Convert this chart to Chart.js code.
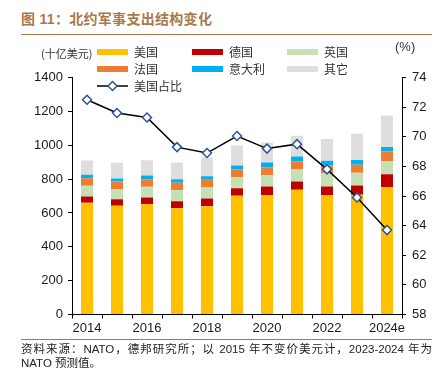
<!DOCTYPE html>
<html lang="zh">
<head>
<meta charset="UTF-8">
<title>北约军事支出结构变化</title>
<script src="https://cdn.jsdelivr.net/npm/chart.js"></script>
<style>
  body { margin: 0; width: 446px; height: 376px; background: #fff; position: relative; overflow: hidden;
         font-family: "Liberation Sans", "Noto Sans CJK SC", sans-serif; }
  #title { position: absolute; left: 21px; top: 9px; font-size: 14px; line-height: 20px; font-weight: bold;
           color: #A8794C; letter-spacing: 0.3px; white-space: nowrap; }
  #topRule { position: absolute; left: 21px; top: 34px; width: 411px; border-top: 1.5px solid #A8794C; }
  #bottomRule { position: absolute; left: 21px; top: 339px; width: 411px; border-top: 1.5px solid #A8794C; }
  .note { position: absolute; left: 21px; width: 411px; font-size: 11.5px; line-height: 14px; color: #222; white-space: nowrap; }
  #n1 { top: 342px; text-align: justify; text-align-last: justify; }
  #n2 { top: 356px; }
  #chartBox { position: absolute; left: 0; top: 0; width: 446px; height: 376px; }
</style>
</head>
<body>
<div id="title">图 11：北约军事支出结构变化</div>
<div id="topRule"></div>
<div id="chartBox"><canvas id="natoChart"></canvas></div>
<div id="bottomRule"></div>
<div class="note" id="n1">资料来源：NATO，德邦研究所；以 2015 年不变价美元计，2023-2024 年为</div>
<div class="note" id="n2">NATO 预测值。</div>
<script>
const years = ['2014', '2015', '2016', '2017', '2018', '2019', '2020', '2021', '2022', '2023', '2024e'];

// 十亿美元 (2015 constant prices)
const usSpend      = [660, 642, 652, 628, 640, 701, 705, 737, 705, 707, 752];
const germanySpend = [37, 39, 39, 41, 45, 45, 51, 49, 51, 55, 77];
const ukSpend      = [63, 59, 63, 65, 65, 65, 67, 71, 77, 75, 77];
const franceSpend  = [45, 46, 45, 44, 46, 47, 47, 49, 47, 47, 57];
const italySpend   = [20, 17, 22, 21, 21, 22, 28, 27, 28, 28, 27];
const otherSpend   = [85, 93, 90, 99, 110, 118, 118, 123, 128, 155, 185];

// 美国占比 (%)
const usShare = [72.5, 71.6, 71.3, 69.3, 68.9, 70.05, 69.2, 69.5, 67.8, 65.9, 63.7];

const leftTicks = [0, 200, 400, 600, 800, 1000, 1200, 1400];
const rightTicks = [58, 60, 62, 64, 66, 68, 70, 72, 74];

const cjk = '"Noto Sans CJK SC", sans-serif';
const tickFont = { family: '"Liberation Sans", Arial, sans-serif', size: 13 };

function bar(label, data, color) {
    return { type: 'bar', label: label, data: data, backgroundColor: color, borderWidth: 0,
             stack: 's', yAxisID: 'y', order: 1, barPercentage: 0.4, categoryPercentage: 1 };
}

// legend in a 3-column grid, plus unit labels above the axes
const gridLegend = {
    id: 'gridLegend',
    afterDraw(chart) {
        const ctx = chart.ctx;
        const colX = [97, 192, 287];
        const rowY = [52, 69, 86];
        ctx.save();
        ctx.textBaseline = 'middle';
        ctx.font = '12px ' + cjk;
        chart.data.datasets.forEach((ds, i) => {
            const x = colX[i % 3];
            const y = rowY[Math.floor(i / 3)];
            if (ds.type === 'line') {
                ctx.strokeStyle = ds.borderColor;
                ctx.lineWidth = 1.5;
                ctx.beginPath();
                ctx.moveTo(x, y);
                ctx.lineTo(x + 31, y);
                ctx.stroke();
                const cx = x + 15.5, r = 4.5;
                ctx.beginPath();
                ctx.moveTo(cx, y - r);
                ctx.lineTo(cx + r, y);
                ctx.lineTo(cx, y + r);
                ctx.lineTo(cx - r, y);
                ctx.closePath();
                ctx.fillStyle = ds.pointBackgroundColor;
                ctx.fill();
                ctx.strokeStyle = ds.pointBorderColor;
                ctx.stroke();
            } else {
                ctx.fillStyle = ds.backgroundColor;
                ctx.fillRect(x, y - 3, 31, 6);
            }
            ctx.fillStyle = '#333';
            ctx.fillText(ds.label, x + 37, y);
        });
        ctx.font = '11px ' + cjk;
        ctx.fillText('(十亿美元)', 41, 54);
        ctx.font = '13px "Liberation Sans", Arial, sans-serif';
        ctx.fillText('(%)', 395, 47);
        ctx.restore();
    }
};

const ctx = document.getElementById('natoChart').getContext('2d');
new Chart(ctx, {
    data: {
        labels: years,
        datasets: [
            bar('美国', usSpend, '#FFC000'),
            bar('德国', germanySpend, '#C00000'),
            bar('英国', ukSpend, '#C5E0B4'),
            bar('法国', franceSpend, '#ED7D31'),
            bar('意大利', italySpend, '#00B0F0'),
            bar('其它', otherSpend, '#DEDEDE'),
            {
                type: 'line',
                label: '美国占比',
                data: usShare,
                yAxisID: 'y1',
                order: 0,
                borderColor: '#000',
                borderWidth: 1.5,
                tension: 0,
                pointStyle: 'rectRot',
                pointRadius: 4.5,
                pointBackgroundColor: '#fff',
                pointBorderColor: '#2F5597',
                pointBorderWidth: 1.5
            }
        ]
    },
    options: {
        responsive: true,
        maintainAspectRatio: false,
        animation: false,
        layout: { padding: { top: 77.5, bottom: 39.5, left: 0, right: 0 } },
        plugins: { legend: { display: false }, tooltip: { enabled: false } },
        scales: {
            x: {
                stacked: true,
                offset: true,
                afterFit: function(scale) { scale.height = 22; },
                border: { color: '#000', width: 1 },
                grid: { drawOnChartArea: false, offset: true, tickLength: 4, color: '#000' },
                ticks: {
                    autoSkip: false, maxRotation: 0, padding: 2, color: '#1a1a1a', font: tickFont,
                    callback: function(value, index) { return index % 2 === 0 ? years[index] : ''; }
                }
            },
            y: {
                stacked: true,
                position: 'left',
                min: 0, max: 1400,
                afterFit: function(scale) { scale.width = 72; },
                afterBuildTicks: function(scale) { scale.ticks = leftTicks.map(v => ({ value: v })); },
                border: { color: '#000', width: 1 },
                grid: { drawOnChartArea: false, tickLength: 4, color: '#000' },
                ticks: { padding: 5, color: '#1a1a1a', font: tickFont,
                         callback: function(value) { return String(value); } }
            },
            y1: {
                position: 'right',
                min: 58, max: 74,
                afterFit: function(scale) { scale.width = 44; },
                afterBuildTicks: function(scale) { scale.ticks = rightTicks.map(v => ({ value: v })); },
                border: { color: '#000', width: 1 },
                grid: { drawOnChartArea: false, tickLength: 4, color: '#000' },
                ticks: { padding: 6, color: '#1a1a1a', font: tickFont,
                         callback: function(value) { return String(value); } }
            }
        }
    },
    plugins: [gridLegend]
});
</script>
</body>
</html>
